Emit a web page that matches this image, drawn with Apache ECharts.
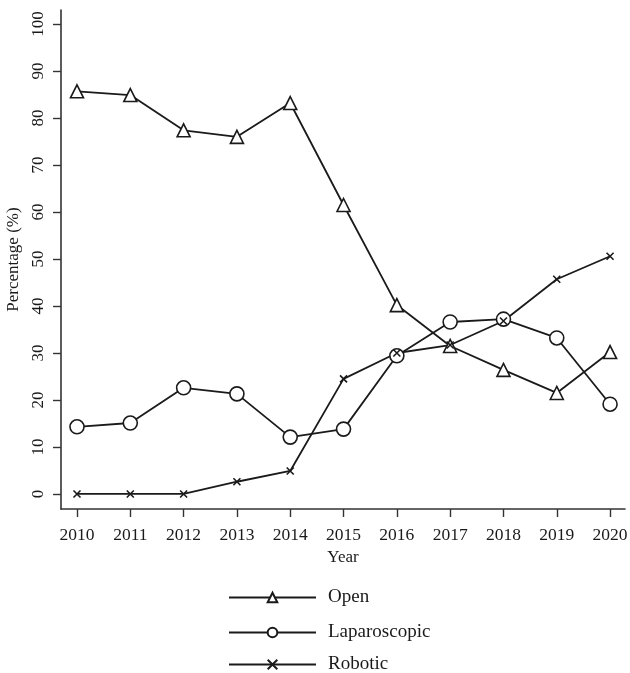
<!DOCTYPE html>
<html><head><meta charset="utf-8">
<script src="https://cdn.jsdelivr.net/npm/echarts@6/dist/echarts.min.js"></script>
<style>html,body{margin:0;padding:0;background:#fff}#c{width:630px;height:673px}</style>
</head><body><div id="c"></div>
<script>
var years = [2010, 2011, 2012, 2013, 2014, 2015, 2016, 2017, 2018, 2019, 2020];
var openVals = [85.7, 84.9, 77.4, 76.0, 83.2, 61.5, 40.2, 31.5, 26.4, 21.5, 30.2];
var lapVals = [14.3, 15.1, 22.6, 21.3, 12.1, 13.8, 29.4, 36.6, 37.2, 33.2, 19.1];
var roboVals = [0, 0, 0, 2.6, 4.9, 24.5, 30.0, 31.7, 36.8, 45.7, 50.6];
var yTicks = [0, 10, 20, 30, 40, 50, 60, 70, 80, 90, 100];
var seriesNames = ['Open', 'Laparoscopic', 'Robotic'];

function pairs(v){ return years.map(function(y,i){ return [y, v[i]]; }); }
var font = 'Liberation Serif';
var ink = '#1a1a1a';
var chart = echarts.init(document.getElementById('c'));
function ser(name, data, symbol, size, fill){
  return {
    name: name, type: 'line', data: pairs(data), symbol: symbol, symbolSize: size,
    showAllSymbol: true,
    lineStyle: {color: ink, width: 1.8},
    itemStyle: {color: fill, borderColor: ink, borderWidth: 1.6},
    emphasis: {disabled: true}, animation: false, z: 3
  };
}
var legendTops = [588, 623, 655];
var legends = seriesNames.map(function(n, i){
  return {
    orient: 'vertical', left: 228, top: legendTops[i], padding: 0,
    itemWidth: 87, itemHeight: 12,
    textStyle: {fontFamily: font, fontSize: 19, color: ink, padding: [0,0,0,7]},
    data: [n]
  };
});
chart.setOption({
  animation: false,
  grid: {left: 61, right: 5, top: 10, bottom: 164, containLabel: false, outerBoundsMode: 'none'},
  xAxis: {
    type: 'value', min: 2009.7, max: 2020.28,
    name: 'Year', nameLocation: 'middle', nameGap: 37,
    nameTextStyle: {fontFamily: font, fontSize: 17, color: ink},
    axisLine: {show: true, onZero: false, lineStyle: {color: '#333', width: 1.6}},
    axisTick: {show: true, length: 8, customValues: years, lineStyle: {color: '#333', width: 1.4}},
    axisLabel: {customValues: years, margin: 17, fontFamily: font, fontSize: 17.5, color: ink,
      formatter: function(v){ return String(Math.round(v)); }},
    splitLine: {show: false}
  },
  yAxis: {
    type: 'value', min: -3.2, max: 103,
    name: 'Percentage (%)', nameLocation: 'middle', nameGap: 32, nameRotate: 90,
    nameTextStyle: {fontFamily: font, fontSize: 17, color: ink},
    axisLine: {show: true, onZero: false, lineStyle: {color: '#333', width: 1.6}},
    axisTick: {show: true, length: 8, customValues: yTicks, lineStyle: {color: '#333', width: 1.4}},
    axisLabel: {customValues: yTicks, rotate: 90, margin: 14, fontFamily: font, fontSize: 17, color: ink,
      formatter: function(v){ return String(Math.round(v)); }},
    splitLine: {show: false}
  },
  legend: legends,
  series: [
    ser(seriesNames[0], openVals, 'triangle', 13, '#fff'),
    ser(seriesNames[1], lapVals, 'circle', 14, '#fff'),
    ser(seriesNames[2], roboVals, 'path://M0,0L10,10M10,0L0,10', 7, 'none')
  ]
});
</script></body></html>
